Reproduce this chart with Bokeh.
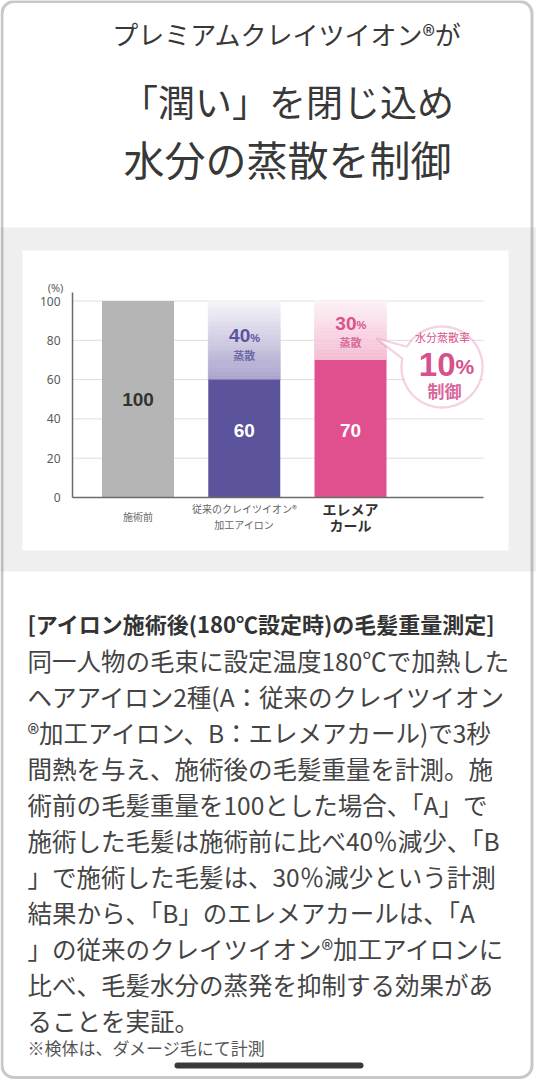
import numpy as np
from bokeh.plotting import figure
from bokeh.models import Range1d, FixedTicker, Label, BoxAnnotation, PolyAnnotation, LinearAxis
from bokeh.embed import file_html
from bokeh.resources import INLINE

# ---------------- data ----------------
categories = ["施術前", "従来のクレイツイオン®\n加工アイロン", "エレメア\nカール"]
retained = [100, 60, 70]      # 施術後の毛髪重量 (%)
evaporated = [0, 40, 30]      # 蒸散 (%)
y_ticks = [0, 20, 40, 60, 80, 100]
y_unit = "(%)"
evap_word = "蒸散"
bubble_head = "水分蒸散率"
bubble_foot = "制御"

title_lines = ["プレミアムクレイツイオン®が", "「潤い」を閉じ込め", "水分の蒸散を制御"]
note_heading = "[アイロン施術後(180℃設定時)の毛髪重量測定]"
note_lines = [
    "同一人物の毛束に設定温度180℃で加熱した",
    "ヘアアイロン2種(A：従来のクレイツイオン",
    "®加工アイロン、B：エレメアカール)で3秒",
    "間熱を与え、施術後の毛髪重量を計測。施",
    "術前の毛髪重量を100とした場合、「A」で",
    "施術した毛髪は施術前に比べ40％減少、「B",
    "」で施術した毛髪は、30％減少という計測",
    "結果から、「B」のエレメアカールは、「A",
    "」の従来のクレイツイオン®加工アイロンに",
    "比べ、毛髪水分の蒸発を抑制する効果があ",
    "ることを実証。",
]
footnote = "※検体は、ダメージ毛にて計測"

# ---------------- styles ----------------
JP = "Noto Sans CJK JP"
NUM = "Liberation Sans"
solid_colors = ["#b4b5b4", "#5b539b", "#e1508e"]
fade_bottom = ["#b4b5b4", "#aaa4cc", "#f4bdd4"]
fade_top = ["#b4b5b4", "#f5f4f9", "#fdf1f6"]
value_colors = ["#333333", "#ffffff", "#ffffff"]
evap_colors = ["#333333", "#5b539b", "#d9528c"]
evap_word_colors = ["#333333", "#6f69aa", "#d66a98"]
cat_colors = ["#666666", "#666666", "#333333"]
cat_styles = ["normal", "normal", "bold"]
PINK = "#d6528c"

# ---------------- geometry (page pixels) ----------------
W, H = 536, 1080
AX_L, AX_R, AX_T, AX_B = 72, 483, 292, 497   # chart axes box on the page
PITCH = 106.25                               # px between bar centres
FIRST = 137.5                                # first bar centre
Y100 = 300.5                                 # page y of value 100
KY = (AX_B - Y100) / 100                     # px per value unit
BAR_W = 72 / PITCH


def SX(px):
    return px


def SY(py):
    return H - py


def DX(px):  # page x -> data x
    return (px - FIRST) / PITCH


def DY(py):  # page y -> data y
    return (AX_B - py) / KY


p = figure(width=W, height=H, x_range=Range1d(DX(0), DX(W)), y_range=Range1d(DY(H), DY(0)),
           output_backend="svg", toolbar_location=None, title=None,
           x_axis_location=None, y_axis_location=None,
           min_border=0, border_fill_color="white", background_fill_color="white",
           outline_line_color=None)
p.grid.visible = False


def screen_box(l, r, t, b, **kw):
    return BoxAnnotation(left=SX(l), right=SX(r), top=SY(t), bottom=SY(b),
                         left_units="screen", right_units="screen",
                         top_units="screen", bottom_units="screen", **kw)


# backgrounds
p.add_layout(screen_box(0, 536, 227, 571, fill_color="#efefef", fill_alpha=1,
                        line_color=None, level="image"))
p.add_layout(screen_box(22, 508, 250, 550, fill_color="#ffffff", fill_alpha=1,
                        line_color=None, level="image"))

# axes fixed at the chart origin
yax = LinearAxis(fixed_location=DX(AX_L), bounds=(0, DY(AX_T)),
                 ticker=FixedTicker(ticks=y_ticks))
yax.axis_line_color = "#6b6b6b"
yax.axis_line_width = 1.5
yax.major_tick_line_color = None
yax.minor_tick_line_color = None
yax.major_label_standoff = 6
yax.major_label_text_font = "Noto Sans"
yax.major_label_text_font_size = "12px"
yax.major_label_text_color = "#5a5a5a"
p.add_layout(yax, "left")

xax = LinearAxis(fixed_location=0, bounds=(DX(AX_L), DX(AX_R)), ticker=FixedTicker(ticks=[]))
xax.axis_line_color = "#6b6b6b"
xax.axis_line_width = 1.5
xax.major_tick_line_color = None
xax.minor_tick_line_color = None
p.add_layout(xax, "below")

# horizontal grid lines at the tick values
p.segment(x0=[DX(AX_L)] * len(y_ticks), x1=[DX(AX_R)] * len(y_ticks),
          y0=y_ticks, y1=y_ticks, line_color="#dedede", line_width=1)


def mix(c1, c2, t):
    a = [int(c1[i:i + 2], 16) for i in (1, 3, 5)]
    b = [int(c2[i:i + 2], 16) for i in (1, 3, 5)]
    return "#%02x%02x%02x" % tuple(round(a[k] + (b[k] - a[k]) * t) for k in range(3))


idx = list(range(len(categories)))

# faded (evaporated) part of each bar
N = 40
for i, (r, e) in enumerate(zip(retained, evaporated)):
    if e <= 0:
        continue
    edges = np.linspace(r, r + e, N + 1)
    cols = [mix(fade_bottom[i], fade_top[i], k / (N - 1)) for k in range(N)]
    p.vbar(x=[i] * N, bottom=edges[:-1], top=edges[1:], width=BAR_W,
           fill_color=cols, line_color=cols, line_width=0.6)

# retained part
p.vbar(x=idx, top=retained, width=BAR_W, fill_color=solid_colors, line_color=None)

# value labels
for i, r in enumerate(retained):
    yv = r / 2 if evaporated[i] == 0 else 34
    p.add_layout(Label(x=i, y=yv, text=str(r), text_align="center", text_baseline="middle",
                       text_font=NUM, text_font_style="bold", text_font_size="19px",
                       text_color=value_colors[i]))

# evaporation labels
for i, (r, e) in enumerate(zip(retained, evaporated)):
    if e <= 0:
        continue
    ytop = r + e * (0.56 if i == 1 else 0.62)
    p.add_layout(Label(x=i, y=ytop, x_offset=6, text=str(e), text_align="right",
                       text_baseline="middle", text_font=NUM, text_font_style="bold",
                       text_font_size="19px", text_color=evap_colors[i]))
    p.add_layout(Label(x=i, y=ytop, x_offset=6, y_offset=-2, text="%", text_align="left",
                       text_baseline="middle", text_font=NUM, text_font_style="bold",
                       text_font_size="11px", text_color=evap_colors[i]))
    p.add_layout(Label(x=i, y=ytop, y_offset=-19, text=evap_word, text_align="center",
                       text_baseline="middle", text_font=JP, text_font_style="bold",
                       text_font_size="11px", text_color=evap_word_colors[i]))

# category labels (below axis)
for i, name in enumerate(categories):
    parts = name.split("\n")
    n = len(parts)
    fs = "14px" if cat_styles[i] == "bold" else "10px"
    for k, part in enumerate(parts):
        py = 516 + (k - (n - 1) / 2) * 16
        p.add_layout(Label(x=i, y=SY(py), y_units="screen", text=part, text_align="center",
                           text_baseline="middle", text_font=JP, text_font_style=cat_styles[i],
                           text_font_size=fs, text_color=cat_colors[i]))

# (%) unit label
p.add_layout(Label(x=SX(55), y=SY(287), x_units="screen", y_units="screen", text=y_unit,
                   text_align="center", text_baseline="middle", text_font="Noto Sans",
                   text_font_size="11px", text_color="#5a5a5a"))

# speech bubble
cx, cy, rad = 441.5, 366.5, 40.5
th = np.radians(np.linspace(168, 510, 120))
bx = [SX(cx + rad * np.cos(t)) for t in th] + [SX(376)]
by = [SY(cy - rad * np.sin(t)) for t in th] + [SY(338)]
p.add_layout(PolyAnnotation(xs=bx, ys=by, xs_units="screen", ys_units="screen",
                            fill_color="white", fill_alpha=1, line_color="#da6a9f",
                            line_width=2.3))
diff = evaporated[1] - evaporated[2]
p.add_layout(Label(x=SX(442), y=SY(336), x_units="screen", y_units="screen", text=bubble_head,
                   text_align="center", text_baseline="middle", text_font=JP,
                   text_font_size="11px", text_color=PINK))
p.add_layout(Label(x=SX(455), y=SY(364), x_units="screen", y_units="screen", text=str(diff),
                   text_align="right", text_baseline="middle", text_font=NUM,
                   text_font_style="bold", text_font_size="33px", text_color=PINK))
p.add_layout(Label(x=SX(455), y=SY(366), x_units="screen", y_units="screen", text="%",
                   text_align="left", text_baseline="middle", text_font=NUM,
                   text_font_style="bold", text_font_size="21px", text_color=PINK))
p.add_layout(Label(x=SX(444), y=SY(390), x_units="screen", y_units="screen", text=bubble_foot,
                   text_align="center", text_baseline="middle", text_font=JP,
                   text_font_style="bold", text_font_size="17px", text_color="#d8669a"))

# headline
title_y = [33, 100, 157]
title_fs = ["26px", "37px", "41px"]
for t, yy, fs in zip(title_lines, title_y, title_fs):
    p.add_layout(Label(x=SX(287), y=SY(yy), x_units="screen", y_units="screen", text=t,
                       text_align="center", text_baseline="middle", text_font=JP,
                       text_font_size=fs, text_color="#383838"))

# explanatory text
p.add_layout(Label(x=SX(27), y=SY(622), x_units="screen", y_units="screen", text=note_heading,
                   text_align="left", text_baseline="middle", text_font=JP,
                   text_font_style="bold", text_font_size="22px", text_color="#333333"))
for k, line in enumerate(note_lines):
    p.add_layout(Label(x=SX(27), y=SY(660 + 36 * k), x_units="screen", y_units="screen",
                       text=line, text_align="left", text_baseline="middle", text_font=JP,
                       text_font_size="24.5px", text_color="#444444"))
p.add_layout(Label(x=SX(27), y=SY(1047), x_units="screen", y_units="screen", text=footnote,
                   text_align="left", text_baseline="middle", text_font=JP,
                   text_font_size="17px", text_color="#555555"))

# phone frame + home indicator
p.add_layout(screen_box(1.5, 531.5, 1, 1077, fill_alpha=0, line_color="#4a4a4a",
                        line_width=3, border_radius=12))
p.add_layout(screen_box(174, 363, 1062, 1068, fill_color="#3a3a3a", fill_alpha=1,
                        line_color=None, border_radius=3))

open("out.html", "w").write(file_html(p, INLINE))
